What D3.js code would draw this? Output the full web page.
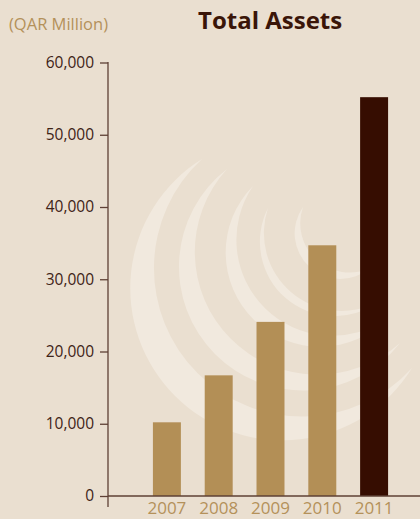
<!DOCTYPE html>
<html>
<head>
<meta charset="utf-8">
<script src="https://cdn.jsdelivr.net/npm/d3@7"></script>
<style>
  html, body { margin: 0; padding: 0; background: #eadfd0; }
  svg { display: block; }
</style>
</head>
<body>
<div id="chart"></div>
<script>
// donnees du graphique
const years = ["2007", "2008", "2009", "2010", "2011"];
const assets = [10200, 16700, 24100, 34700, 55200];
const yTicks = [0, 10000, 20000, 30000, 40000, 50000, 60000];

const width = 420;
const height = 519;

// watermark: crescents of the logo (tip A, tip B, outer bulge, inner bulge)
const swirl = [
  [[202, 159], [412, 368], 187, 155],
  [[227, 169], [400, 343], 139, 117],
  [[253, 186], [388, 318], 95, 79],
  [[268, 208], [378, 302], 57, 49],
  [[303, 207], [370, 268], 40, 30]
];

const svg = d3
  .select("#chart")
  .append("svg")
  .attr("width", width)
  .attr("height", height);

svg.append("rect").attr("width", width).attr("height", height).attr("fill", "#eadfd0");

// arc through two tips with a given bulge
function crescent(c) {
  const a = c[0], b = c[1];
  const dx = b[0] - a[0], dy = b[1] - a[1];
  const h = Math.sqrt(dx * dx + dy * dy) / 2;
  const r1 = (h * h + c[2] * c[2]) / (2 * c[2]);
  const r2 = (h * h + c[3] * c[3]) / (2 * c[3]);
  const l1 = c[2] > h ? 1 : 0;
  const l2 = c[3] > h ? 1 : 0;
  return "M" + a + "A" + r1 + "," + r1 + " 0 " + l1 + " 0 " + b +
    "A" + r2 + "," + r2 + " 0 " + l2 + " 1 " + a + "Z";
}

svg
  .append("g")
  .selectAll("path")
  .data(swirl)
  .enter()
  .append("path")
  .attr("d", crescent)
  .attr("fill", "#f1e9de");

// echelles
const x = d3.scaleBand().domain(years).range([141, 400]).paddingInner(0.46).paddingOuter(0.23);
const y = d3.scaleLinear().domain([0, 60000]).range([496, 62.5]);

// barres
svg
  .selectAll(".bar")
  .data(assets)
  .enter()
  .append("rect")
  .attr("class", "bar")
  .attr("x", function (d, i) {
    return x(years[i]);
  })
  .attr("y", function (d) {
    return y(d);
  })
  .attr("width", x.bandwidth())
  .attr("height", function (d) {
    return y(0) - y(d);
  })
  .attr("fill", function (d, i) {
    return i === years.length - 1 ? "#360d01" : "#b38f56";
  });

const axisColor = "#5e4035";

// axe y
const yAxis = svg
  .append("g")
  .attr("transform", "translate(108,0)")
  .call(
    d3.axisLeft(y)
      .tickValues(yTicks)
      .tickSize(8)
      .tickPadding(6)
      .tickFormat(d3.format(","))
  );
yAxis.select(".domain").remove();
yAxis.selectAll("line").attr("stroke", axisColor).attr("stroke-width", 1.3);
yAxis
  .selectAll("text")
  .attr("fill", "#3e2317")
  .style("font-family", "'Open Sans', sans-serif")
  .style("font-size", "15.5px");

svg
  .append("line")
  .attr("x1", 108)
  .attr("x2", 108)
  .attr("y1", y(60000) - 0.6)
  .attr("y2", y(0) + 11)
  .attr("stroke", axisColor)
  .attr("stroke-width", 1.3);

// axe x
const xAxis = svg
  .append("g")
  .attr("transform", "translate(0," + y(0) + ")")
  .call(d3.axisBottom(x).tickSize(0).tickPadding(6));
xAxis.select(".domain").remove();
xAxis
  .selectAll("text")
  .attr("fill", "#b4915a")
  .style("font-family", "'Open Sans', sans-serif")
  .style("font-size", "17px");

svg
  .append("line")
  .attr("x1", 108)
  .attr("x2", width)
  .attr("y1", y(0))
  .attr("y2", y(0))
  .attr("stroke", axisColor)
  .attr("stroke-width", 1.3);

// titres
svg
  .append("text")
  .attr("x", 9)
  .attr("y", 30)
  .attr("fill", "#b4915a")
  .style("font-family", "'Open Sans', sans-serif")
  .style("font-size", "16.5px")
  .text("(QAR Million)");

svg
  .append("text")
  .attr("x", 198)
  .attr("y", 29)
  .attr("fill", "#3a1508")
  .style("font-family", "'Open Sans', sans-serif")
  .style("font-size", "24px")
  .style("font-weight", "bold")
  .text("Total Assets");
</script>
</body>
</html>
